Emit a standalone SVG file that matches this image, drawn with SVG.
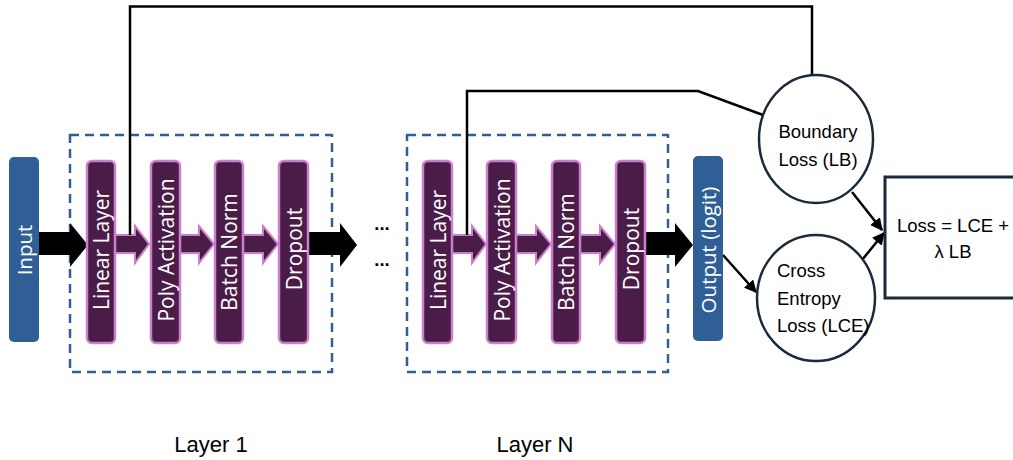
<svg xmlns="http://www.w3.org/2000/svg" width="1013" height="460" viewBox="0 0 1013 460">
<defs>
<style>
.io{fill:#2f5f96;}
.io-t{fill:#fff;font-family:"Open Sans","Liberation Sans",sans-serif;font-size:20.5px;text-anchor:middle;dominant-baseline:central;}
.blk{fill:#4b1c47;stroke:#c97fcb;stroke-width:2.5;}
.blk-t{fill:#fff;font-family:"Open Sans","Liberation Sans",sans-serif;font-size:21px;text-anchor:middle;dominant-baseline:central;}
.pa{fill:#4b1c47;stroke:#c97fcb;stroke-width:2;stroke-linejoin:miter;}
.ba{fill:#000;}
.dash{fill:none;stroke:#2f5f96;stroke-width:2.5;stroke-dasharray:9 6;}
.ln{fill:none;stroke:#000;stroke-width:2.5;}
.circ{fill:#fff;stroke:#1b2a3a;stroke-width:2.5;}
.lbl{fill:#000;font-family:"Liberation Sans","Arimo",sans-serif;font-size:18.5px;}
.cap{fill:#000;font-family:"Liberation Sans",sans-serif;font-size:22px;text-anchor:middle;}
</style>
<marker id="ah" viewBox="0 0 10 10" refX="9" refY="5" markerWidth="5" markerHeight="5" orient="auto" markerUnits="strokeWidth">
<path d="M0,0 L10,5 L0,10 z" fill="#000"/>
</marker>
</defs>
<rect width="1013" height="460" fill="#fff"/>

<g id="layer1-frame"><rect class="dash" x="70" y="135" width="262" height="237"/></g>
<g id="layerN-frame"><rect class="dash" x="407" y="135" width="261" height="237"/></g>

<g id="connectors">
<path class="ba" d="M39,232 H70 V223 L88,245 L70,267 V255 H39 Z"/>
<path class="ba" d="M308,232 H340 V223 L357,245 L340,267 V255 H308 Z"/>
<path class="ba" d="M645,232 H675 V223 L693,245 L675,267 V255 H645 Z"/>
<path class="pa" d="M115,235 H135 V226 L149,244 L135,263 V253 H115 Z"/>
<path class="pa" d="M180,235 H199 V226 L214,244 L199,263 V253 H180 Z"/>
<path class="pa" d="M243,235 H263 V226 L278,244 L263,263 V253 H243 Z"/>
<path class="pa" d="M452,235 H472 V226 L486,244 L472,263 V253 H452 Z"/>
<path class="pa" d="M516,235 H536 V226 L551,244 L536,263 V253 H516 Z"/>
<path class="pa" d="M580,235 H600 V226 L615,244 L600,263 V253 H580 Z"/>
<path class="ln" d="M130,235 V6.5 H812 V75"/>
<path class="ln" d="M467,235 V91 H698 L763,115"/>
<path class="ln" d="M723,255 L756,292" marker-end="url(#ah)"/>
<path class="ln" d="M852,192 L882,230" marker-end="url(#ah)"/>
<path class="ln" d="M862,260 L884,233" marker-end="url(#ah)"/>
</g>

<g id="input"><rect class="io" x="9" y="157" width="30" height="185" rx="5"/><text class="io-t" transform="translate(24,250) rotate(-90)">Input</text></g>

<g id="linear1"><rect class="blk" x="87" y="161" width="28" height="182" rx="5"/><text class="blk-t" transform="translate(101,250) rotate(-90)">Linear Layer</text></g>
<g id="poly1"><rect class="blk" x="151" y="161" width="29" height="182" rx="5"/><text class="blk-t" transform="translate(165.5,250) rotate(-90)">Poly Activation</text></g>
<g id="bn1"><rect class="blk" x="215" y="161" width="28" height="182" rx="5"/><text class="blk-t" transform="translate(229,252) rotate(-90)">Batch Norm</text></g>
<g id="drop1"><rect class="blk" x="279" y="161" width="29" height="182" rx="5"/><text class="blk-t" transform="translate(293.5,249) rotate(-90)">Dropout</text></g>

<g id="dots"><text class="lbl" x="382" y="230" text-anchor="middle" font-size="24" font-weight="bold">...</text><text class="lbl" x="382" y="266" text-anchor="middle" font-size="24" font-weight="bold">...</text></g>

<g id="linearN"><rect class="blk" x="423" y="161" width="29" height="182" rx="5"/><text class="blk-t" transform="translate(437.5,250) rotate(-90)">Linear Layer</text></g>
<g id="polyN"><rect class="blk" x="487" y="161" width="29" height="182" rx="5"/><text class="blk-t" transform="translate(501.5,250) rotate(-90)">Poly Activation</text></g>
<g id="bnN"><rect class="blk" x="552" y="161" width="28" height="182" rx="5"/><text class="blk-t" transform="translate(566,252) rotate(-90)">Batch Norm</text></g>
<g id="dropN"><rect class="blk" x="616" y="161" width="29" height="182" rx="5"/><text class="blk-t" transform="translate(630.5,249) rotate(-90)">Dropout</text></g>

<g id="output"><rect class="io" x="693" y="156" width="30" height="185" rx="5"/><text class="io-t" transform="translate(708,250) rotate(-90)">Output (logit)</text></g>

<g id="boundary"><ellipse class="circ" cx="816" cy="139" rx="57" ry="64"/><text class="lbl" x="818" y="138" text-anchor="middle">Boundary</text><text class="lbl" x="818" y="166" text-anchor="middle">Loss (LB)</text></g>
<g id="crossentropy"><ellipse class="circ" cx="816" cy="298" rx="59" ry="63"/><text class="lbl" x="777" y="277">Cross</text><text class="lbl" x="777" y="305">Entropy</text><text class="lbl" x="777" y="332">Loss (LCE)</text></g>
<g id="loss"><rect fill="#fff" stroke="#1b2a3a" stroke-width="3" x="885" y="177" width="140" height="121"/><text class="lbl" x="953" y="232" text-anchor="middle">Loss = LCE +</text><text class="lbl" x="953" y="258" text-anchor="middle">λ LB</text></g>

<g id="captions"><text class="cap" x="211" y="452">Layer 1</text><text class="cap" x="535" y="452">Layer N</text></g>
</svg>
